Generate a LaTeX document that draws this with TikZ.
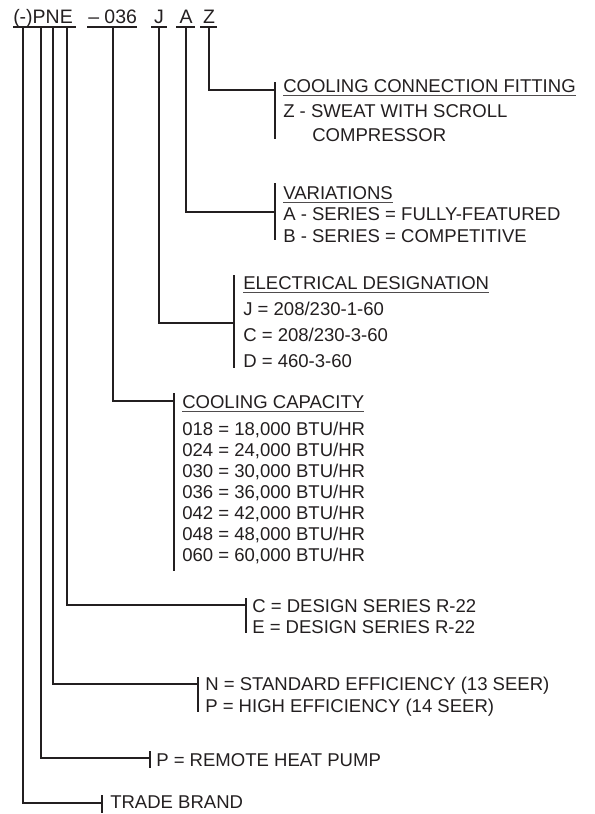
\documentclass[tikz,border=0pt]{standalone}
\usepackage{fontspec}
\setmainfont{Liberation Sans}
\definecolor{ink}{HTML}{231F20}
\tikzset{
  lead/.style={line width=1.7pt, draw=ink},
  bar/.style={line width=1.9pt, draw=ink},
  uline/.style={line width=0.75pt, draw=ink!80},
  txt/.style={anchor=base west, inner sep=0pt, text=ink,
    font=\fontsize{13.9}{16}\selectfont},
  code/.style={txt, font=\fontsize{14.6}{17}\selectfont},
}
\begin{document}
\begin{tikzpicture}[x=0.75pt,y=-0.75pt]
  \useasboundingbox (0,0) rectangle (594,814);
  % model number and its underlines
  \node[code] (pne) at (13,23) {(-)PNE};
  \node[code] (size) at (88,23) {–\ 036};
  \node[code,anchor=base] (volt) at (159,23) {J};
  \node[code,anchor=base] (vari) at (186,23) {A};
  \node[code,anchor=base] (conn) at (209,23) {Z};
  \foreach \xa/\xb in {13/76,87/137,151/167,176/195,200/217}
    \draw[lead] (\xa,27) -- (\xb,27);
  % taps under the code letters
  \coordinate (tBrand) at (23,27);
  \coordinate (tType) at (41,27);
  \coordinate (tEff) at (53,27);
  \coordinate (tSer) at (67,27);
  \coordinate (tCap) at (113,27);
  \coordinate (tElec) at (159,27);
  \coordinate (tVar) at (186,27);
  \coordinate (tFit) at (209,27);
  % where each lead meets its bracket
  \coordinate (jFit) at (275,90);
  \coordinate (jVar) at (275,212);
  \coordinate (jElec) at (234,323);
  \coordinate (jCap) at (174,401);
  \coordinate (jSer) at (246,605);
  \coordinate (jEff) at (198,684);
  \coordinate (jType) at (150,758);
  \coordinate (jBrand) at (102,803);
  \foreach \n in {Brand,Type,Eff,Ser,Cap,Elec,Var,Fit}
    \draw[lead] (t\n) |- (j\n);
  % brackets
  \foreach \x/\ya/\yb in {275/82/139,275/183/240,234/275/368,174/393/571,
      246/598/633,198/677/712,150/751/768,102/795/813}
    \draw[bar] (\x,\ya) -- (\x,\yb);
  % cooling connection fitting
  \node[txt] (hFit) at (283,92) {COOLING CONNECTION FITTING};
  \node[txt] (fitZ) at (283,117) {Z - SWEAT WITH SCROLL};
  \node[txt] (fitZb) at (312,141) {COMPRESSOR};
  % variations
  \node[txt] (hVar) at (283,199) {VARIATIONS};
  \node[txt] (varA) at (283,220) {A - SERIES = FULLY-FEATURED};
  \node[txt] (varB) at (283,242) {B - SERIES = COMPETITIVE};
  % electrical designation
  \node[txt] (hElec) at (243,289) {ELECTRICAL DESIGNATION};
  \foreach \l/\v [count=\i] in {J/208\slash 230-1-60,C/208\slash 230-3-60,D/460-3-60}
    \node[txt] (elec\i) at (243,{289+26*\i}) {\l{} = \v};
  % cooling capacity
  \node[txt] (hCap) at (182,408) {COOLING CAPACITY};
  \foreach \c/\v [count=\i] in {018/18,024/24,030/30,036/36,042/42,048/48,060/60}
    \node[txt] (cap\i) at (182,{414+21*\i}) {\c{} = \v,000 BTU/HR};
  % the rest
  \node[txt] (serC) at (252,612) {C = DESIGN SERIES R-22};
  \node[txt] (serE) at (252,633) {E = DESIGN SERIES R-22};
  \node[txt] (effN) at (205,690) {N = STANDARD EFFICIENCY (13 SEER)};
  \node[txt] (effP) at (205,712) {P = HIGH EFFICIENCY (14 SEER)};
  \node[txt] (typeP) at (156,766) {P = REMOTE HEAT PUMP};
  \node[txt] (brand) at (110,808) {TRADE BRAND};
  % underlined headings
  \foreach \h in {hFit,hVar,hElec,hCap}
    \draw[uline] ([yshift=-2.3pt]\h.base west) -- ([yshift=-2.3pt]\h.base east);
\end{tikzpicture}
\end{document}
